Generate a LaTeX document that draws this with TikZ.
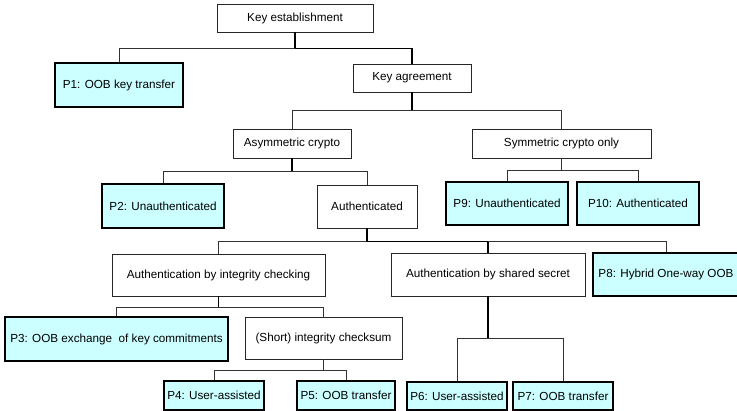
\documentclass[tikz,border=0pt]{standalone}
\usepackage{fontspec}
\setmainfont{Liberation Sans}
\usepackage{tikz}
\definecolor{protofill}{RGB}{204,255,255}

\begin{document}
\begin{tikzpicture}[x=1pt,y=-1pt,
    class_node/.style={draw=black!85,fill=white,line width=0.9pt,inner sep=0pt,font=\fontsize{11.7}{14}\selectfont},
    proto_node/.style={draw=black,fill=protofill,line width=2.2pt,inner sep=0pt,font=\fontsize{11.7}{14}\selectfont},
    branch/.style={draw=black!80,line width=0.9pt},
    stem/.style={draw=black,line width=1.8pt}]

    \clip (0,0) rectangle (737,411);
    \fill[white] (0,0) rectangle (737,411);

    \node[class_node,minimum width=156pt,minimum height=28pt] (ke) at (295,18) {Key establishment};
    \node[proto_node,minimum width=128pt,minimum height=44pt] (p1) at (119,85) {P1: OOB key transfer};
    \node[class_node,minimum width=118pt,minimum height=28pt] (ka) at (412,78) {Key agreement};

    \node[class_node,minimum width=118pt,minimum height=29pt] (ac) at (292,143.5) {Asymmetric crypto};
    \node[class_node,minimum width=179pt,minimum height=29pt] (sc) at (561.5,143.5) {Symmetric crypto only};

    \node[proto_node,minimum width=122pt,minimum height=44pt] (p2) at (163,206) {P2: Unauthenticated};
    \node[class_node,minimum width=100pt,minimum height=43pt] (au) at (367,206.5) {Authenticated};
    \node[proto_node,minimum width=122pt,minimum height=43pt] (p9) at (507,203.5) {P9: Unauthenticated};
    \node[proto_node,minimum width=122pt,minimum height=43pt] (p10) at (638,203.5) {P10: Authenticated};

    \node[class_node,minimum width=213pt,minimum height=42pt] (ic) at (218.5,275) {Authentication by integrity checking};
    \node[class_node,minimum width=194pt,minimum height=43pt] (ss) at (488,274.5) {Authentication by shared secret};
    \node[proto_node,minimum width=146pt,minimum height=43pt] (p8) at (666,274.5) {P8: Hybrid One-way OOB};

    \node[proto_node,minimum width=223pt,minimum height=44pt] (p3) at (116.5,339) {P3: OOB exchange~ of key commitments};
    \node[class_node,minimum width=157pt,minimum height=42pt] (cs) at (323.5,338) {(Short) integrity checksum};

    \node[proto_node,minimum width=100pt,minimum height=29pt] (p4) at (214,395.5) {P4: User-assisted};
    \node[proto_node,minimum width=98pt,minimum height=29pt] (p5) at (346,395.5) {P5: OOB transfer};
    \node[proto_node,minimum width=100pt,minimum height=28pt] (p6) at (457,396) {P6: User-assisted};
    \node[proto_node,minimum width=100pt,minimum height=28pt] (p7) at (563,396) {P7: OOB transfer};

    \draw[stem] (ke.south) -- ++(0,16) coordinate (kej);
    \draw[branch] (kej) -| (p1.north);
    \draw[stem] (kej) -| (ka.north);

    \draw[stem] (ka.south) -- ++(0,18) coordinate (kaj);
    \draw[branch] (kaj) -| (ac.north);
    \draw[branch] (kaj) -| (sc.north);

    \draw[stem] (ac.south) -- ++(0,13) coordinate (acj);
    \draw[branch] (acj) -| (p2.north);
    \draw[branch] (acj) -| (au.north);

    \draw[branch] (sc.south) -- ++(0,12) coordinate (scj);
    \draw[branch] (scj) -| (p9.north);
    \draw[branch] (scj) -| (p10.north);

    \draw[stem] (au.south) -- ++(0,13) coordinate (auj);
    \draw[branch] (auj) -| (ic.north);
    \draw[stem] (auj) -| (ss.north);
    \draw[branch] (ss.north |- auj) -| (p8.north);

    \draw[stem] (ic.south) -- ++(0,11) coordinate (icj);
    \draw[branch] (icj) -| (p3.north);
    \draw[branch] (icj) -| (cs.north);

    \draw[branch] (cs.south) -- ++(0,11) coordinate (csj);
    \draw[branch] (csj) -| (p4.north);
    \draw[branch] (csj) -| (p5.north);

    \draw[stem] (ss.south) -- ++(0,42) coordinate (ssj);
    \draw[branch] (ssj) -| (p6.north);
    \draw[branch] (ssj) -| (p7.north);
\end{tikzpicture}
\end{document}
